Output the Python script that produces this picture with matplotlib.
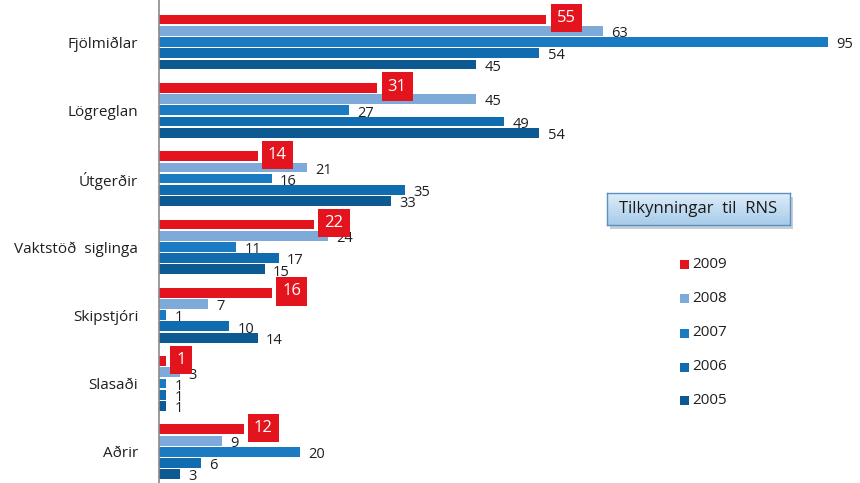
import matplotlib
matplotlib.use("Agg")
import matplotlib.pyplot as plt
import numpy as np
from matplotlib.patches import Rectangle

categories = ["Fjölmiðlar", "Lögreglan", "Útgerðir", "Vaktstöð  siglinga",
              "Skipstjóri", "Slasaði", "Aðrir"]
years = ["2009", "2008", "2007", "2006", "2005"]
v2009 = [55, 31, 14, 22, 16, 1, 12]
v2008 = [63, 45, 21, 24, 7, 3, 9]
v2007 = [95, 27, 16, 11, 1, 1, 20]
v2006 = [54, 49, 35, 17, 10, 1, 6]
v2005 = [45, 54, 33, 15, 14, 1, 3]
series = [v2009, v2008, v2007, v2006, v2005]
colors = ["#E3141E", "#7EAADA", "#1A7BC2", "#106BAF", "#0D5A93"]
legend_title = "Tilkynningar  til  RNS"

plt.rcParams["font.family"] = ["Open Sans", "DejaVu Sans"]

W, H = 860, 483
fig = plt.figure(figsize=(W / 100, H / 100), dpi=100)
fig.patch.set_facecolor("white")

ax_left = 159 / W
ax = fig.add_axes([ax_left, 0, 1 - ax_left, 1])
ax.set_facecolor("none")

px_per_unit = (828 - 159) / 95.0
ax.set_xlim(0, (W - 159) / px_per_unit)

group_px = 68.3
first_center = 42.0
ax.set_ylim((H - first_center) / group_px, -first_center / group_px)

step = 11.2 / group_px
bar_h = 9.8 / group_px
offsets = [(-2 + k) * step for k in range(5)]

y_idx = np.arange(len(categories))
for k, (vals, col) in enumerate(zip(series, colors)):
    ys = y_idx + offsets[k]
    ax.barh(ys, vals, height=bar_h, color=col, edgecolor="none", zorder=2)
    for y, v in zip(ys, vals):
        if k == 0:
            ax.annotate(str(v), xy=(v, y), xytext=(7.5, 1), textcoords="offset points",
                        ha="left", va="center", color="white", fontsize=12,
                        bbox=dict(boxstyle="square,pad=0.37", fc="#E3141E", ec="none"),
                        zorder=4)
        else:
            ax.annotate(str(v), xy=(v, y), xytext=(6, -2), textcoords="offset points",
                        ha="left", va="center", color="#1f1f1f", fontsize=10.5, zorder=3)

ax.set_yticks(y_idx)
ax.set_yticklabels(categories, fontsize=11, color="#1f1f1f")
ax.tick_params(axis="y", length=0, pad=15)
ax.set_xticks([])
for s in ["top", "right", "bottom"]:
    ax.spines[s].set_visible(False)
ax.spines["left"].set_color("#8a8a8a")
ax.spines["left"].set_linewidth(1.2)


def fx(px):
    return px / W


def fy(py):
    return 1 - py / H


# Legend title box with a soft drop shadow
shadow_ax = fig.add_axes([fx(610), fy(229), fx(183), 32 / H], zorder=8)
shadow_ax.set_axis_off()
shadow_ax.add_patch(Rectangle((0, 0), 1, 1, transform=shadow_ax.transAxes,
                              fc="#9aa6b2", ec="none", alpha=0.55))
box_ax = fig.add_axes([fx(607), fy(225), fx(183), 32 / H], zorder=10)
grad = np.linspace(0, 1, 64).reshape(-1, 1)
box_ax.imshow(grad, aspect="auto", extent=[0, 1, 0, 1], origin="lower",
              cmap=matplotlib.colors.LinearSegmentedColormap.from_list("g", ["#a6cbea", "#deedf9"]))
box_ax.set_xlim(0, 1)
box_ax.set_ylim(0, 1)
box_ax.set_xticks([])
box_ax.set_yticks([])
for s in box_ax.spines.values():
    s.set_color("#5c8fc4")
    s.set_linewidth(1.0)
box_ax.text(0.5, 0.5, legend_title, ha="center", va="center", fontsize=12, color="#1a1a1a")

# Legend entries
leg_y = [264, 298, 333, 367, 400]
for yr, col, ly in zip(years, colors, leg_y):
    fig.patches.append(Rectangle((fx(680), fy(ly + 4.5)), fx(9), 9 / H,
                                 transform=fig.transFigure, fc=col, ec="none"))
    fig.text(fx(692), fy(ly), yr, ha="left", va="center", fontsize=11, color="#1f1f1f")

fig.savefig("out.png", dpi=100)
